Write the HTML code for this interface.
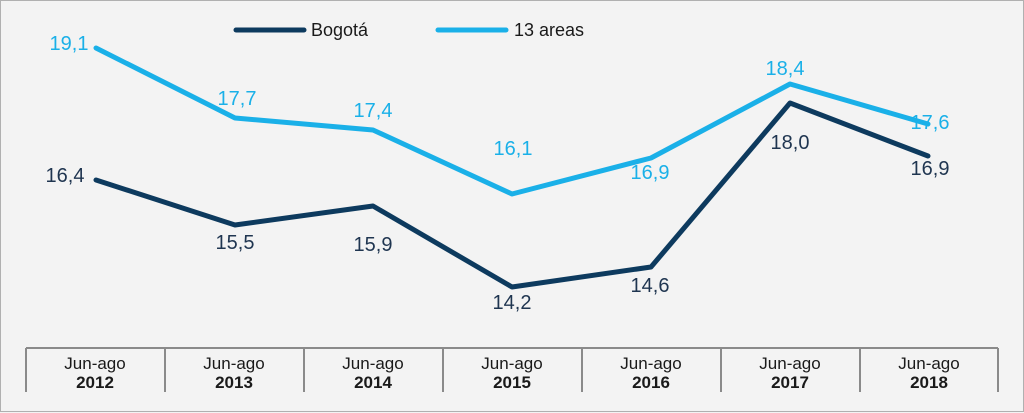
<!DOCTYPE html>
<html><head><meta charset="utf-8"><style>
html,body{margin:0;padding:0;background:#f3f3f3;}
svg{display:block;font-family:"Liberation Sans",sans-serif;}
</style></head><body>
<svg width="1024" height="413" viewBox="0 0 1024 413">
<rect x="0.5" y="0.5" width="1023" height="411" fill="#f3f3f3" stroke="#b0b0b0"/>
<line x1="236" y1="30" x2="304" y2="30" stroke="#0d3a5e" stroke-width="5" stroke-linecap="round"/>
<text x="311" y="36" font-size="18" fill="#1a1a1a">Bogotá</text>
<line x1="438" y1="30" x2="506" y2="30" stroke="#1ab0e8" stroke-width="5" stroke-linecap="round"/>
<text x="514" y="36" font-size="18" fill="#1a1a1a">13 areas</text>
<polyline fill="none" stroke="#1ab0e8" stroke-width="5" stroke-linejoin="round" stroke-linecap="round" points="96,48 235,118 373,130 512,194 651,158 790,84 928,124"/>
<polyline fill="none" stroke="#0d3a5e" stroke-width="5" stroke-linejoin="round" stroke-linecap="round" points="96,180 235,225 373,206 512,287 651,267 790,103 928,156"/>
<g font-size="20" fill="#1ab0e8" text-anchor="middle">
<text x="69" y="50">19,1</text>
<text x="237" y="105">17,7</text>
<text x="373" y="117">17,4</text>
<text x="513" y="155">16,1</text>
<text x="650" y="179">16,9</text>
<text x="785" y="75">18,4</text>
<text x="930" y="129">17,6</text>
</g>
<g font-size="20" fill="#1f3550" text-anchor="middle">
<text x="65" y="182">16,4</text>
<text x="235" y="249">15,5</text>
<text x="373" y="251">15,9</text>
<text x="512" y="309">14,2</text>
<text x="650" y="292">14,6</text>
<text x="790" y="149">18,0</text>
<text x="930" y="175">16,9</text>
</g>
<g stroke="#8a8a8a" stroke-width="2">
<line x1="26" y1="348" x2="998" y2="348"/>
<line x1="26" y1="348" x2="26" y2="392"/><line x1="165" y1="348" x2="165" y2="392"/>
<line x1="304" y1="348" x2="304" y2="392"/><line x1="443" y1="348" x2="443" y2="392"/>
<line x1="582" y1="348" x2="582" y2="392"/><line x1="721" y1="348" x2="721" y2="392"/>
<line x1="860" y1="348" x2="860" y2="392"/><line x1="998" y1="348" x2="998" y2="392"/>
</g>
<g text-anchor="middle" fill="#1a1a1a">
<g font-size="17"><text x="95" y="369">Jun-ago</text><text x="234" y="369">Jun-ago</text><text x="373" y="369">Jun-ago</text><text x="512" y="369">Jun-ago</text><text x="651" y="369">Jun-ago</text><text x="790" y="369">Jun-ago</text><text x="929" y="369">Jun-ago</text></g>
<g font-size="17" font-weight="bold"><text x="95" y="388">2012</text><text x="234" y="388">2013</text><text x="373" y="388">2014</text><text x="512" y="388">2015</text><text x="651" y="388">2016</text><text x="790" y="388">2017</text><text x="929" y="388">2018</text></g>
</g>
</svg>
</body></html>
